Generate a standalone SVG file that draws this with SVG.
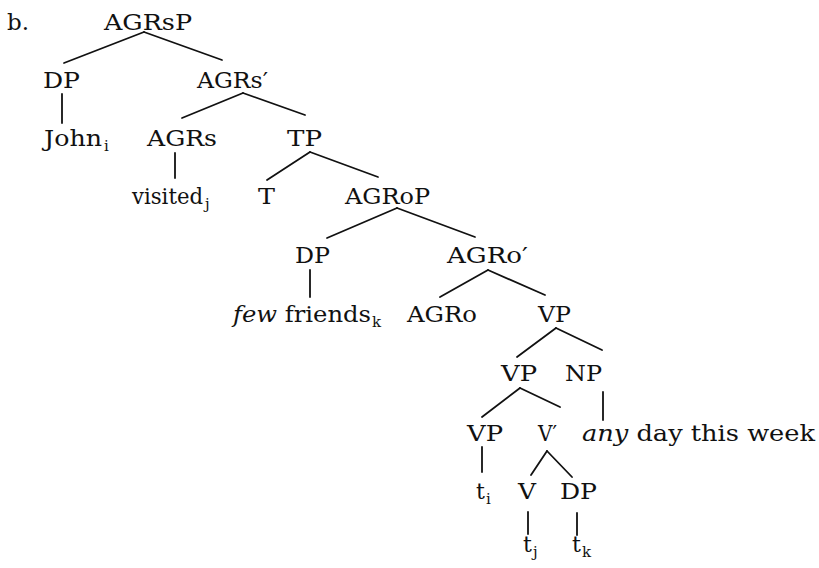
<svg xmlns="http://www.w3.org/2000/svg" width="819" height="568" viewBox="0 0 819 568">
  <style>
    .lbl { font-family: "DejaVu Serif", "Liberation Serif", serif; font-size: 22px; fill: #111; }
    .sub { font-family: "DejaVu Serif", "Liberation Serif", serif; font-size: 15px; fill: #111; }
    .it { font-style: italic; }
    .edge { stroke: #111; stroke-width: 1.8; stroke-linecap: round; fill: none; }
  </style>
  <rect width="819" height="568" fill="#fff"/>

  <!-- example label -->
  <text class="lbl" x="7" y="30" textLength="22" lengthAdjust="spacingAndGlyphs">b.</text>

  <!-- tree nodes -->
  <g id="agrsp"><text class="lbl" x="104" y="30" textLength="88" lengthAdjust="spacingAndGlyphs">AGRsP</text></g>
  <g id="dp-subj"><text class="lbl" x="43" y="88" textLength="37" lengthAdjust="spacingAndGlyphs">DP</text></g>
  <g id="agrs-bar"><text class="lbl" x="197" y="88" textLength="71" lengthAdjust="spacingAndGlyphs">AGRs′</text></g>
  <g id="john"><text class="lbl" x="44" y="146" textLength="58" lengthAdjust="spacingAndGlyphs">John</text><text class="sub" x="104" y="151">i</text></g>
  <g id="agrs"><text class="lbl" x="147" y="146" textLength="70" lengthAdjust="spacingAndGlyphs">AGRs</text></g>
  <g id="tp"><text class="lbl" x="287" y="146" textLength="35" lengthAdjust="spacingAndGlyphs">TP</text></g>
  <g id="visited"><text class="lbl" x="132" y="204" textLength="71" lengthAdjust="spacingAndGlyphs">visited</text><text class="sub" x="205" y="209">j</text></g>
  <g id="t"><text class="lbl" x="258" y="204" textLength="17" lengthAdjust="spacingAndGlyphs">T</text></g>
  <g id="agrop"><text class="lbl" x="345" y="204" textLength="85" lengthAdjust="spacingAndGlyphs">AGRoP</text></g>
  <g id="dp-obj"><text class="lbl" x="295" y="263" textLength="35" lengthAdjust="spacingAndGlyphs">DP</text></g>
  <g id="agro-bar"><text class="lbl" x="447" y="263" textLength="81" lengthAdjust="spacingAndGlyphs">AGRo′</text></g>
  <g id="few-friends"><text class="lbl" x="233" y="322" textLength="138" lengthAdjust="spacingAndGlyphs"><tspan class="it">few</tspan> friends</text><text class="sub" x="372" y="327">k</text></g>
  <g id="agro"><text class="lbl" x="407" y="322" textLength="70" lengthAdjust="spacingAndGlyphs">AGRo</text></g>
  <g id="vp-top"><text class="lbl" x="538" y="322" textLength="33" lengthAdjust="spacingAndGlyphs">VP</text></g>
  <g id="vp-mid"><text class="lbl" x="501" y="381" textLength="36" lengthAdjust="spacingAndGlyphs">VP</text></g>
  <g id="np"><text class="lbl" x="565" y="381" textLength="37" lengthAdjust="spacingAndGlyphs">NP</text></g>
  <g id="vp-low"><text class="lbl" x="467" y="441" textLength="36" lengthAdjust="spacingAndGlyphs">VP</text></g>
  <g id="v-bar"><text class="lbl" x="538" y="441" textLength="19" lengthAdjust="spacingAndGlyphs">V′</text></g>
  <g id="any-day"><text class="lbl" x="582" y="441" textLength="233" lengthAdjust="spacingAndGlyphs"><tspan class="it">any</tspan> day this week</text></g>
  <g id="trace-i"><text class="lbl" x="476" y="499">t</text><text class="sub" x="486" y="504">i</text></g>
  <g id="v"><text class="lbl" x="518" y="499" textLength="18" lengthAdjust="spacingAndGlyphs">V</text></g>
  <g id="dp-low"><text class="lbl" x="560" y="499" textLength="37" lengthAdjust="spacingAndGlyphs">DP</text></g>
  <g id="trace-j"><text class="lbl" x="523" y="552">t</text><text class="sub" x="533" y="557">j</text></g>
  <g id="trace-k"><text class="lbl" x="572" y="552">t</text><text class="sub" x="582" y="557">k</text></g>

  <!-- branches -->
  <g id="connectors" class="edge">
    <line x1="144" y1="32" x2="64" y2="63"/>
    <line x1="144" y1="32" x2="222" y2="60"/>
    <line x1="62" y1="94" x2="62" y2="123"/>
    <line x1="243" y1="93" x2="182" y2="118"/>
    <line x1="243" y1="93" x2="305" y2="115"/>
    <line x1="175" y1="153" x2="175" y2="178"/>
    <line x1="310" y1="152" x2="267" y2="180"/>
    <line x1="310" y1="152" x2="378" y2="177"/>
    <line x1="397" y1="208" x2="327" y2="238"/>
    <line x1="397" y1="208" x2="475" y2="237"/>
    <line x1="310" y1="270" x2="310" y2="297"/>
    <line x1="488" y1="270" x2="440" y2="297"/>
    <line x1="488" y1="270" x2="545" y2="295"/>
    <line x1="556" y1="328" x2="517" y2="357"/>
    <line x1="556" y1="328" x2="602" y2="350"/>
    <line x1="520" y1="388" x2="482" y2="417"/>
    <line x1="520" y1="388" x2="560" y2="407"/>
    <line x1="603" y1="392" x2="603" y2="420"/>
    <line x1="482" y1="447" x2="482" y2="472"/>
    <line x1="547" y1="451" x2="531" y2="475"/>
    <line x1="547" y1="451" x2="572" y2="477"/>
    <line x1="528" y1="512" x2="528" y2="534"/>
    <line x1="577" y1="513" x2="577" y2="535"/>
  </g>
</svg>
